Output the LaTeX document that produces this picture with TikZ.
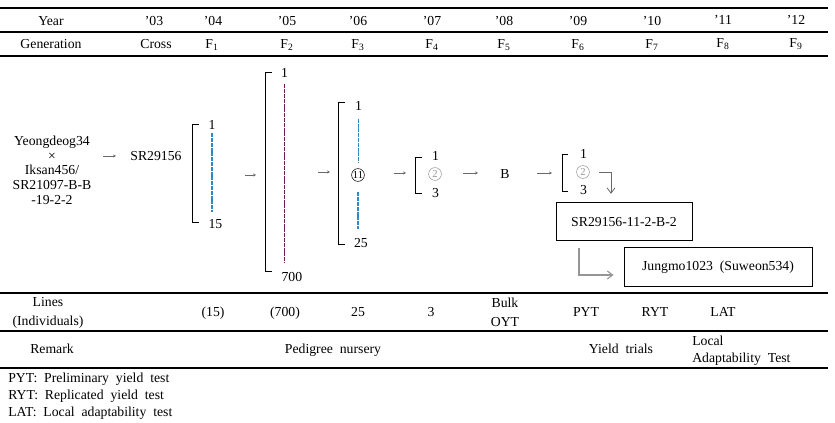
\documentclass[tikz,border=0pt]{standalone}
\usepackage{fontspec}
\setmainfont{Liberation Serif}
\usetikzlibrary{arrows.meta, positioning}
\definecolor{lineBlue}{RGB}{45,135,200}
\definecolor{linePlum}{RGB}{115,25,85}
\definecolor{arrowGrey}{RGB}{105,105,105}
\definecolor{pickGrey}{RGB}{150,150,150}

\begin{document}
\begin{tikzpicture}[x=0.75pt, y=-0.75pt,
	font=\fontsize{10.3}{12}\selectfont,
	rule/.style={line width=0.9pt},
	cell/.style={inner sep=0pt, text height=1.6ex, text depth=0.3ex},
	num/.style={inner sep=1pt, anchor=west},
	bracket/.style={line width=0.75pt},
	seedDash/.style={line width=1.1pt, dash pattern=on 3pt off 0.6pt},
	flow/.style={arrowGrey, line width=0.5pt, -{Stealth[length=2.2pt, width=2.2pt]}},
	bendDark/.style={arrowGrey, line width=0.6pt, -{Straight Barb[length=4pt, width=6pt]}},
	bendLight/.style={pickGrey, line width=0.8pt, -{Straight Barb[length=4pt, width=6pt]}},
	circNum/.style={circle, draw, inner sep=0pt, minimum size=9.6pt, line width=0.4pt, font=\fontsize{8}{8}\selectfont},
	box/.style={draw, line width=0.75pt, inner sep=0pt}]

% Bounding box.

	\useasboundingbox (0,0) rectangle (835,423);

% Draw table rules.

	\draw[rule] (0,8) -- (828,8);
	\draw[rule] (0,32) -- (828,32);
	\draw[rule] (0,56) -- (828,56);
	\draw[rule] (0,293) -- (828,293);
	\draw[rule] (0,331) -- (828,331);
	\draw[rule] (0,368) -- (828,368);

% Year row.

	\node[cell] (yearLbl) at (51,22) {Year};
	\node[cell] (yr03) at (154,22) {'03};
	\node[cell] (yr04) at (213,22) {'04};
	\node[cell] (yr05) at (287,22) {'05};
	\node[cell] (yr06) at (358,22) {'06};
	\node[cell] (yr07) at (432,22) {'07};
	\node[cell] (yr08) at (504,22) {'08};
	\node[cell] (yr09) at (578,22) {'09};
	\node[cell] (yr10) at (652,22) {'10};
	\node[cell] (yr11) at (723,21) {'11};
	\node[cell] (yr12) at (796,21) {'12};

% Generation row.

	\node[cell] (genLbl) at (51,45) {Generation};
	\node[cell] (genCross) at (156,45) {Cross};
	\node[cell] (genF1) at (212,45) {F\textsubscript{1}};
	\node[cell] (genF2) at (287,45) {F\textsubscript{2}};
	\node[cell] (genF3) at (358,45) {F\textsubscript{3}};
	\node[cell] (genF4) at (432,45) {F\textsubscript{4}};
	\node[cell] (genF5) at (504,45) {F\textsubscript{5}};
	\node[cell] (genF6) at (578,45) {F\textsubscript{6}};
	\node[cell] (genF7) at (652,45) {F\textsubscript{7}};
	\node[cell] (genF8) at (723,44) {F\textsubscript{8}};
	\node[cell] (genF9) at (796,44) {F\textsubscript{9}};

% Cross and parent.

	\node[align=center, font=\fontsize{10.3}{11}\selectfont] (cross) at (52,170) {Yeongdeog34\\×\\Iksan456/\\SR21097-B-B\\-19-2-2};
	\node (parent) at (156,156) {SR29156};

	\coordinate (arrA0) at (103,156);
	\coordinate (arrA1) at (116,156);
	\draw[flow] (arrA0) -- (arrA1);

% F1 bracket.

	\draw[bracket] (199,125) -- (192,125) -- (192,223) -- (199,223);
	\node[num] (fOneTop) at (207,125) {1};
	\node[num] (fOneEnd) at (207,224) {15};
	\draw[seedDash, lineBlue, shorten <=1.5pt, shorten >=4pt] (fOneTop.south) -- (fOneTop.south |- fOneEnd.north);

	\coordinate (arrB0) at (245,175);
	\coordinate (arrB1) at (256,175);
	\draw[flow] (arrB0) -- (arrB1);

% F2 bracket.

	\draw[bracket] (272,73) -- (265,73) -- (265,272) -- (272,272);
	\node[num] (fTwoTop) at (279.5,73) {1};
	\node[num] (fTwoEnd) at (280,277) {700};
	\draw[seedDash, linePlum, shorten <=4pt, shorten >=6pt] (fTwoTop.south) -- (fTwoTop.south |- fTwoEnd.north);

	\coordinate (arrC0) at (318,172);
	\coordinate (arrC1) at (330,172);
	\draw[flow] (arrC0) -- (arrC1);

% F3 bracket.

	\draw[bracket] (345,103) -- (338,103) -- (338,245) -- (345,245);
	\node[num] (fThreeTop) at (353.5,106) {1};
	\node[circNum] (fThreeSel) at (358,175) {11};
	\node[num] (fThreeEnd) at (352.5,243) {25};
	\draw[seedDash, lineBlue, shorten <=5pt, shorten >=4pt] (fThreeTop.south) -- (fThreeTop.south |- fThreeSel.north);
	\draw[seedDash, lineBlue, shorten <=8pt, shorten >=6pt] (fThreeSel.south) -- (fThreeSel.south |- fThreeEnd.north);

	\coordinate (arrD0) at (394,173);
	\coordinate (arrD1) at (406,173);
	\draw[flow] (arrD0) -- (arrD1);

% F4 bracket.

	\draw[bracket] (422,158) -- (415,158) -- (415,194) -- (422,194);
	\node[num] (fFourTop) at (430.5,156) {1};
	\node[circNum, draw=pickGrey, text=pickGrey] (fFourSel) at (435,174) {2};
	\node[num] (fFourEnd) at (430.5,193) {3};

	\coordinate (arrE0) at (463,173);
	\coordinate (arrE1) at (478,173);
	\draw[flow] (arrE0) -- (arrE1);

	\node (bulk) at (505,174) {B};

	\coordinate (arrF0) at (537,173);
	\coordinate (arrF1) at (552,173);
	\draw[flow] (arrF0) -- (arrF1);

% F6 bracket.

	\draw[bracket] (568,155) -- (562,155) -- (562,192) -- (568,192);
	\node[num] (fSixTop) at (578.5,154) {1};
	\node[circNum, draw=pickGrey, text=pickGrey] (fSixSel) at (583,172) {2};
	\node[num] (fSixEnd) at (578.5,190) {3};

% Selected line and cultivar.

	\node[box, minimum width=102pt, minimum height=28.5pt] (selBox) at (624,222) {SR29156-11-2-B-2};
	\node[box, minimum width=141pt, minimum height=29.25pt] (finalBox) at (718,267.5) {Jungmo1023\ \ (Suweon534)};

	\coordinate (selCorner) at (611,172);
	\draw[bendDark] ([xshift=7pt]fSixSel.east) -- (selCorner) -- ([yshift=6.5pt]selCorner |- selBox.north);

	\coordinate (pickCorner) at (579,275);
	\draw[bendLight] ([yshift=-5pt]selBox.south -| pickCorner) -- (pickCorner) -- ([xshift=-7.5pt]pickCorner -| finalBox.west);

% Lines row.

	\node[align=center, font=\fontsize{10.3}{14.2}\selectfont] (linesLbl) at (48,312.5) {Lines\\(Individuals)};
	\node[cell] (linesF1) at (213,313) {(15)};
	\node[cell] (linesF2) at (285,313) {(700)};
	\node[cell] (linesF3) at (358,313) {25};
	\node[cell] (linesF4) at (431,313) {3};
	\node[align=center, font=\fontsize{10.3}{14.2}\selectfont] (linesF5) at (505,312.5) {Bulk\\OYT};
	\node[cell] (linesF6) at (586,313) {PYT};
	\node[cell] (linesF7) at (655,313) {RYT};
	\node[cell] (linesF8) at (723,313) {LAT};

% Remark row.

	\node[cell] (remarkLbl) at (52,350) {Remark};
	\node[cell] (remarkPed) at (333,350) {Pedigree\ \ nursery};
	\node[cell] (remarkYield) at (621,350) {Yield\ \ trials};
	\node[align=left, anchor=west, inner sep=0pt, font=\fontsize{10.3}{12.8}\selectfont] (remarkLocal) at (692,350.5) {Local\\Adaptability\ \ Test};

% Footnotes.

	\node[anchor=west, inner sep=0pt] (noteP) at (8,379) {PYT:\ \ Preliminary\ \ yield\ \ test};
	\node[anchor=west, inner sep=0pt] (noteR) at (8,396) {RYT:\ \ Replicated\ \ yield\ \ test};
	\node[anchor=west, inner sep=0pt] (noteL) at (8,413) {LAT:\ \ Local\ \ adaptability\ \ test};

\end{tikzpicture}
\end{document}
